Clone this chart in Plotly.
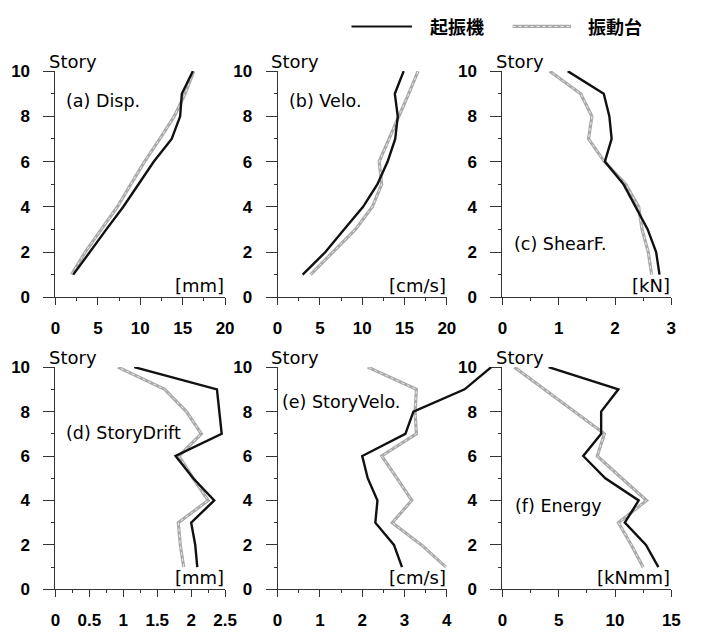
import plotly.graph_objects as go

W, H = 709, 644

# ---- data -----------------------------------------------------------------
stories = [1, 2, 3, 4, 5, 6, 7, 8, 9, 10]

disp_exciter = [2.1, 4.0, 6.0, 8.0, 9.8, 11.6, 13.7, 14.7, 14.9, 16.2]
disp_table = [1.9, 3.5, 5.4, 7.3, 8.9, 10.5, 12.3, 14.0, 15.3, 16.3]

velo_exciter = [2.96, 5.65, 7.85, 10.1, 11.8, 13.0, 13.9, 14.2, 13.85, 14.9]
velo_table = [3.9, 6.5, 9.2, 11.2, 12.3, 12.0, 13.2, 14.3, 15.5, 16.6]

shear_exciter = [2.79, 2.73, 2.58, 2.37, 2.15, 1.82, 1.94, 1.90, 1.80, 1.16]
shear_table = [2.65, 2.59, 2.48, 2.42, 2.19, 1.81, 1.53, 1.59, 1.39, 0.84]

drift_exciter = [2.09, 2.06, 2.0, 2.34, 2.03, 1.77, 2.45, 2.42, 2.38, 1.16]
drift_table = [1.89, 1.84, 1.81, 2.25, 2.03, 1.82, 2.15, 1.93, 1.61, 0.92]

svelo_exciter = [2.94, 2.75, 2.31, 2.36, 2.13, 2.0, 3.02, 3.21, 4.42, 5.05]
svelo_table = [3.98, 3.4, 2.71, 3.17, 2.82, 2.46, 3.28, 3.25, 3.28, 2.13]

energy_exciter = [13.85, 12.75, 10.87, 12.1, 9.14, 7.18, 8.77, 8.77, 10.3, 4.1]
energy_table = [12.5, 11.45, 10.3, 12.8, 10.6, 8.42, 9.06, 6.38, 3.72, 1.07]

series_names = ["起振機", "振動台"]
panel_titles = ["(a) Disp.", "(b) Velo.", "(c) ShearF.",
                "(d) StoryDrift", "(e) StoryVelo.", "(f) Energy"]
panel_units = ["[mm]", "[cm/s]", "[kN]", "[mm]", "[cm/s]", "[kNmm]"]
x_max = [20, 20, 3, 2.5, 4, 15]
x_dtick = [5, 5, 1, 0.5, 1, 5]
y_label = "Story"

exciter = [disp_exciter, velo_exciter, shear_exciter,
           drift_exciter, svelo_exciter, energy_exciter]
table = [disp_table, velo_table, shear_table,
         drift_table, svelo_table, energy_table]

# ---- geometry (pixels) ----------------------------------------------------
col_px = [(51.7, 225.5), (279.3, 452.7), (509.6, 682.7)]
row_px = [(64, 297), (369, 598)]   # (top, bottom) of the plotting area


def xd(l, r):
    return [l / W, r / W]


def yd(t, b):
    return [1 - b / H, 1 - t / H]


def px(x):
    return x / W


def py(y):
    return 1 - y / H


TICK_FONT = dict(family="Liberation Sans", size=17, color="black", weight="bold")
TEXT_FONT = "DejaVu Sans"
BLACK = "#111111"
GRAY = "#a9a9a9"
GRAY_CORE = "#ececec"

fig = go.Figure()
layout = {}
annotations = []
shapes = []

for i in range(6):
    r, c = divmod(i, 3)
    n = i + 1
    xa = "x" if n == 1 else f"x{n}"
    ya = "y" if n == 1 else f"y{n}"
    l, rr = col_px[c]
    t, b = row_px[r]

    layout["xaxis" if n == 1 else f"xaxis{n}"] = dict(
        domain=xd(l, rr), anchor=ya, range=[0, x_max[i]],
        dtick=x_dtick[i], tick0=0, showgrid=False, zeroline=False,
        showline=True, linecolor="#333", linewidth=1,
        ticks="outside", ticklen=7, tickwidth=1, tickcolor="#333",
        minor=dict(dtick=x_dtick[i] / 2, ticks="outside", ticklen=3,
                   tickcolor="#333", tickwidth=1),
        tickfont=TICK_FONT, ticklabelstandoff=8, fixedrange=True,
    )
    layout["yaxis" if n == 1 else f"yaxis{n}"] = dict(
        domain=yd(t, b), anchor=xa, range=[0, 10],
        dtick=2, tick0=0, showgrid=False, zeroline=False,
        showline=True, linecolor="#333", linewidth=1,
        ticks="outside", ticklen=11, tickwidth=1, tickcolor="#333",
        minor=dict(dtick=1, ticks="outside", ticklen=3,
                   tickcolor="#333", tickwidth=1),
        tickfont=TICK_FONT, ticklabelstandoff=10, fixedrange=True,
    )

    # shaking-table result: gray band with a light dotted core
    fig.add_trace(go.Scatter(x=table[i], y=stories, xaxis=xa, yaxis=ya,
                             mode="lines", line=dict(color=GRAY, width=3.2),
                             showlegend=False, hoverinfo="skip"))
    fig.add_trace(go.Scatter(x=table[i], y=stories, xaxis=xa, yaxis=ya,
                             mode="lines",
                             line=dict(color=GRAY_CORE, width=1, dash="dot"),
                             showlegend=False, hoverinfo="skip"))
    # exciter result (panel e runs past its frame, drawn on a wider overlay)
    if i != 4:
        fig.add_trace(go.Scatter(x=exciter[i], y=stories, xaxis=xa, yaxis=ya,
                                 mode="lines", line=dict(color=BLACK, width=2.4),
                                 showlegend=False, hoverinfo="skip"))

    # text labels
    annotations.append(dict(text=y_label, x=px(l - 9), y=py(t - 10),
                            xref="paper", yref="paper", xanchor="left",
                            yanchor="middle", showarrow=False,
                            font=dict(family=TEXT_FONT, size=18, color="black")))
    annotations.append(dict(text=panel_units[i], x=px(rr + 1), y=py(b - 12),
                            xref="paper", yref="paper", xanchor="right",
                            yanchor="middle", showarrow=False,
                            font=dict(family=TEXT_FONT, size=18, color="black")))

title_pos = [(63.3, 95), (291.7, 95), (522.7, 241.7),
             (63.3, 436.7), (285, 405), (523.3, 511.7)]
for i, (tx, ty) in enumerate(title_pos):
    annotations.append(dict(text=panel_titles[i], x=px(tx - 3), y=py(ty),
                            xref="paper", yref="paper", xanchor="left",
                            yanchor="middle", showarrow=False,
                            font=dict(family=TEXT_FONT, size=17.5, color="black")))

# wide overlay axes sharing panel (e)'s scale so its curve can leave the frame
el, er = col_px[1]
fl, fr = col_px[2]
scale_span = x_max[4] * (fr - el) / (er - el)
layout["xaxis7"] = dict(domain=xd(el, fr), anchor="y7", range=[0, scale_span],
                        visible=False, fixedrange=True)
layout["yaxis7"] = dict(domain=yd(*row_px[1]), anchor="x7", range=[0, 10],
                        visible=False, fixedrange=True)
fig.add_trace(go.Scatter(x=svelo_exciter, y=stories, xaxis="x7", yaxis="y7",
                         mode="lines", line=dict(color=BLACK, width=2.4),
                         showlegend=False, hoverinfo="skip"))

# legend
shapes.append(dict(type="line", xref="paper", yref="paper",
                   x0=px(355), x1=px(417), y0=py(18), y1=py(18),
                   line=dict(color=BLACK, width=2)))
shapes.append(dict(type="line", xref="paper", yref="paper",
                   x0=px(520), x1=px(580), y0=py(18), y1=py(18),
                   line=dict(color=GRAY, width=3.2)))
shapes.append(dict(type="line", xref="paper", yref="paper",
                   x0=px(520), x1=px(580), y0=py(18), y1=py(18),
                   line=dict(color=GRAY_CORE, width=1, dash="dot")))
for name, lx in zip(series_names, [433, 595]):
    annotations.append(dict(text=name, x=px(lx), y=py(18), xref="paper",
                            yref="paper", xanchor="left", yanchor="middle",
                            showarrow=False,
                            font=dict(family="Noto Sans CJK JP", size=18,
                                      color="black", weight="bold")))

fig.update_layout(
    width=W, height=H, margin=dict(l=0, r=0, t=0, b=0),
    paper_bgcolor="white", plot_bgcolor="rgba(0,0,0,0)",
    showlegend=False, annotations=annotations, shapes=shapes,
    **layout,
)

fig.write_html("out.html", config={"displayModeBar": False})
